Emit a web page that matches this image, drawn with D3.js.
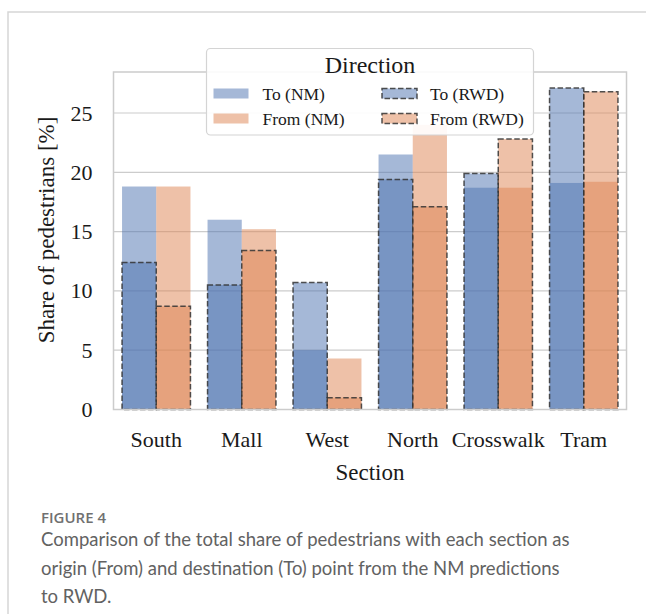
<!DOCTYPE html>
<html>
<head>
<meta charset="utf-8">
<script src="https://cdn.jsdelivr.net/npm/d3@7"></script>
<style>
  html, body { margin: 0; padding: 0; background: #fff; }
  svg { display: block; }
</style>
</head>
<body>
<svg id="chart" width="646" height="614"></svg>
<script>
(function () {
      'use strict';

      var categories = ['South', 'Mall', 'West', 'North', 'Crosswalk', 'Tram'];
      var directions = ['To', 'From'];
      var toNM = [18.8, 16.0, 5.0, 21.5, 18.7, 19.1];
      var fromNM = [18.8, 15.2, 4.3, 24.0, 18.7, 19.2];
      var toRWD = [12.4, 10.5, 10.7, 19.4, 19.9, 27.1];
      var fromRWD = [8.7, 13.4, 1.0, 17.1, 22.8, 26.8];
      var yTicks = [0, 5, 10, 15, 20, 25];
      var legendItems = [
            { name: 'To (NM)', dir: 'To', dashed: false },
            { name: 'From (NM)', dir: 'From', dashed: false },
            { name: 'To (RWD)', dir: 'To', dashed: true },
            { name: 'From (RWD)', dir: 'From', dashed: true }
      ];
      var captionLines = [
            'Comparison of the total share of pedestrians with each section as',
            'origin (From) and destination (To) point from the NM predictions',
            'to RWD.'
      ];

      var colors = { To: '#4c72b0', From: '#dd8452' };
      var serif = '"Liberation Serif", "Times New Roman", serif';

      var svg = d3.select('#chart');
      var left = 113.5, right = 626.5, top = 72, bottom = 409.5;

      var yMax = d3.max(toNM.concat(fromNM, toRWD, fromRWD)) * 1.05;
      var x = d3.scaleBand().domain(categories).range([left, right])
            .paddingInner(0.2).paddingOuter(0.1);
      var xDir = d3.scaleBand().domain(directions).range([0, x.bandwidth()]);
      var y = d3.scaleLinear().domain([0, yMax]).range([bottom, top]);

      function rows(to, from) {
            var out = [];
            categories.forEach(function(c, i) {
                  out.push({ cat: c, dir: 'To', value: to[i] });
                  out.push({ cat: c, dir: 'From', value: from[i] });
            });
            return out;
      }

      // card border
      svg.append('path')
            .attr('d', 'M8,614V12H646')
            .attr('fill', 'none')
            .attr('stroke', '#d6d6d6')
            .attr('stroke-width', 1.5);

      // grid
      svg.append('g').selectAll('line')
            .data(yTicks)
            .join('line')
            .attr('x1', left).attr('x2', right)
            .attr('y1', function(d) { return y(d); })
            .attr('y2', function(d) { return y(d); })
            .attr('stroke', '#cccccc')
            .attr('stroke-width', 1.2);

      function drawBars(data, dashed) {
            svg.append('g').selectAll('rect')
                  .data(data)
                  .join('rect')
                  .attr('x', function(d) { return x(d.cat) + xDir(d.dir); })
                  .attr('width', xDir.bandwidth())
                  .attr('y', function(d) { return y(d.value); })
                  .attr('height', function(d) { return y(0) - y(d.value); })
                  .attr('fill', function(d) { return colors[d.dir]; })
                  .attr('fill-opacity', 0.5)
                  .attr('stroke', dashed ? '#333' : 'none')
                  .attr('stroke-opacity', 0.85)
                  .attr('stroke-width', 1.5)
                  .attr('stroke-dasharray', dashed ? '5.5,2.5' : null);
      }
      drawBars(rows(toNM, fromNM), false);
      drawBars(rows(toRWD, fromRWD), true);

      // frame
      svg.append('rect')
            .attr('x', left).attr('y', top)
            .attr('width', right - left).attr('height', bottom - top)
            .attr('fill', 'none')
            .attr('stroke', '#cccccc')
            .attr('stroke-width', 1.5);

      // axes
      var yAxis = svg.append('g')
            .attr('transform', 'translate(' + left + ',0)')
            .call(d3.axisLeft(y).tickValues(yTicks).tickSize(0).tickPadding(21));
      var xAxis = svg.append('g')
            .attr('transform', 'translate(0,' + bottom + ')')
            .call(d3.axisBottom(x).tickSize(0).tickPadding(22));
      [yAxis, xAxis].forEach(function(a) {
            a.select('.domain').remove();
            a.selectAll('text')
                  .attr('font-family', serif)
                  .attr('font-size', 22)
                  .attr('fill', '#1a1a1a');
      });

      svg.append('text')
            .attr('x', (left + right) / 2).attr('y', 480)
            .attr('text-anchor', 'middle')
            .attr('font-family', serif).attr('font-size', 23)
            .attr('fill', '#1a1a1a')
            .text('Section');

      svg.append('text')
            .attr('transform', 'translate(54,230) rotate(-90)')
            .attr('text-anchor', 'middle')
            .attr('font-family', serif).attr('font-size', 23)
            .attr('fill', '#1a1a1a')
            .text('Share of pedestrians [%]');

      // legend
      var legend = svg.append('g');
      legend.append('rect')
            .attr('x', 206.5).attr('y', 48.5)
            .attr('width', 327).attr('height', 86.5)
            .attr('rx', 4)
            .attr('fill', '#fff').attr('fill-opacity', 0.9)
            .attr('stroke', '#d4d4d4').attr('stroke-width', 1.2);
      legend.append('text')
            .attr('x', 370).attr('y', 73)
            .attr('text-anchor', 'middle')
            .attr('font-family', serif).attr('font-size', 24)
            .attr('fill', '#1a1a1a')
            .text('Direction');

      var items = legend.selectAll('g.item')
            .data(legendItems)
            .join('g')
            .attr('class', 'item')
            .attr('transform', function(d, i) {
                  return 'translate(' + (i < 2 ? 213.5 : 382) + ',' + (i % 2 ? 113.5 : 88.5) + ')';
            });
      items.append('rect')
            .attr('width', 35).attr('height', 10)
            .attr('fill', function(d) { return colors[d.dir]; })
            .attr('fill-opacity', 0.5)
            .attr('stroke', function(d) { return d.dashed ? '#333' : 'none'; })
            .attr('stroke-opacity', 0.85)
            .attr('stroke-width', 1.5)
            .attr('stroke-dasharray', function(d) { return d.dashed ? '5.5,2.5' : null; });
      items.append('text')
            .attr('x', function(d, i) { return i < 2 ? 49 : 48; })
            .attr('y', 11)
            .attr('font-family', serif).attr('font-size', 17.5)
            .attr('fill', '#1a1a1a')
            .text(function(d) { return d.name; });

      // caption
      svg.append('text')
            .attr('x', 41).attr('y', 523)
            .attr('font-family', '"Open Sans", sans-serif')
            .attr('font-size', 15).attr('font-weight', 600)
            .attr('fill', '#707070')
            .text('FIGURE 4');
      svg.append('g').selectAll('text')
            .data(captionLines)
            .join('text')
            .attr('x', 41)
            .attr('y', function(d, i) { return 546 + i * 28.5; })
            .attr('font-family', 'Lato, sans-serif')
            .attr('font-size', 18.5)
            .attr('fill', '#626262')
            .text(function(d) { return d; });
})();
</script>
</body>
</html>
